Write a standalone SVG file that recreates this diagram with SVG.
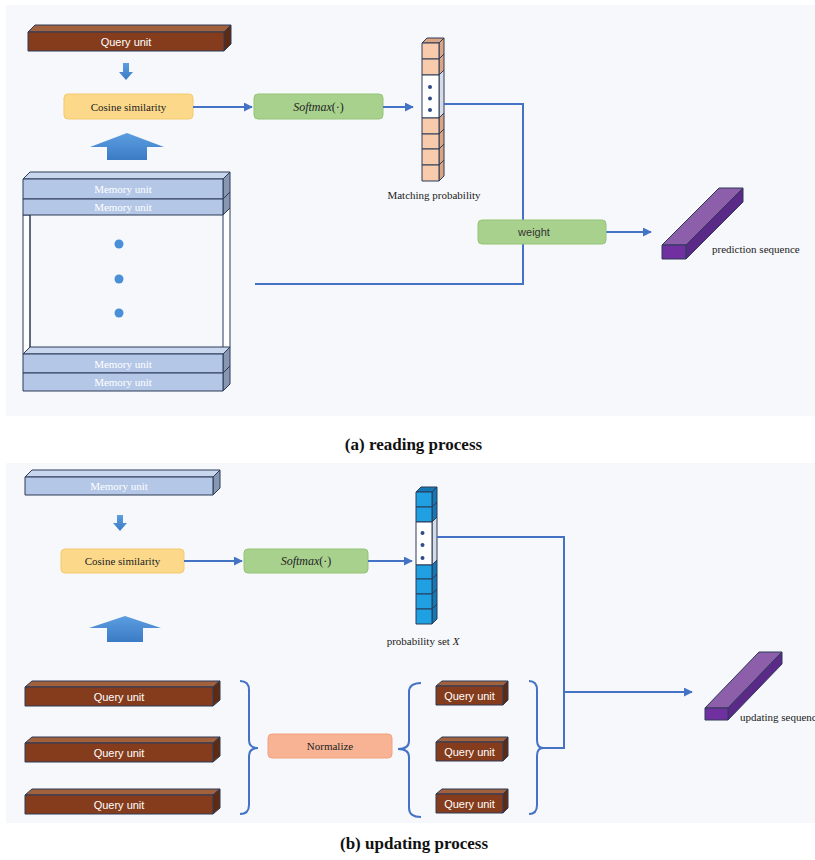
<svg xmlns="http://www.w3.org/2000/svg" width="815" height="860" viewBox="0 0 815 860">
  <defs>
    <style>
      .panel { fill: #f6f8fb; }
      .edge { stroke: #2c3a58; stroke-width: 1; stroke-linejoin: round; }
      .q-front { fill: #843c1c; }
      .q-top { fill: #a2613d; }
      .q-side { fill: #5e2b12; }
      .m-front { fill: #b4c7e7; }
      .m-top { fill: #c8d6ee; }
      .m-side { fill: #8797b2; }
      .p-front { fill: #7030a0; }
      .p-top { fill: #8d5eaa; }
      .p-side { fill: #5b2a88; }
      .c-peach { fill: #f8cbad; }
      .c-peach-side { fill: #d9a582; }
      .c-blue { fill: #1fa0e2; }
      .c-blue-side { fill: #1578b4; }
      .c-white { fill: #ffffff; }
      .c-white-side { fill: #d6dce6; }
      .dot { fill: #2f4a8a; }
      .bigdot { fill: #4a90d9; }
      .wire { fill: none; stroke: #4472c4; stroke-width: 2; }
      .box-yellow { fill: #fcd98a; stroke: #f3c96c; stroke-width: 1; }
      .box-green { fill: #a9d18e; stroke: #93c475; stroke-width: 1; }
      .box-salmon { fill: #f7b394; stroke: #f1a27f; stroke-width: 1; }
      .serif { font-family: "Liberation Serif", "Times New Roman", serif; }
      .sans { font-family: "Liberation Sans", Arial, sans-serif; }
      .lbl { font-size: 11px; fill: #222; }
      .unit { font-size: 11px; fill: #ffffff; }
      .title { font-size: 17px; font-weight: bold; fill: #111; }
    </style>
    <linearGradient id="blockArrow" x1="0" y1="0" x2="0" y2="1">
      <stop offset="0" stop-color="#5c9ee0"/>
      <stop offset="1" stop-color="#3b7bc6"/>
    </linearGradient>
    <marker id="arrow" viewBox="0 0 10 10" refX="9" refY="5" markerWidth="4.5" markerHeight="4.5" orient="auto">
      <path d="M0,0 L10,5 L0,10 Z" fill="#4472c4"/>
    </marker>
  </defs>

  <rect width="815" height="860" fill="#ffffff"/>
  <rect class="panel" x="6" y="5" width="809" height="411"/>
  <rect class="panel" x="6" y="463" width="809" height="360"/>

  <!-- ============ (a) reading process ============ -->
  <g id="query-unit-a">
    <polygon class="q-top edge" points="28,32 35,25 231,25 224,32"/>
    <polygon class="q-side edge" points="224,32 231,25 231,44 224,51"/>
    <rect class="q-front edge" x="28" y="32" width="196" height="19"/>
    <text class="sans unit" x="126" y="46" text-anchor="middle">Query unit</text>
  </g>

  <g id="down-arrow-a">
    <path d="M123,63 H129 V72 H133 L126,80 L119,72 H123 Z" fill="url(#blockArrow)"/>
  </g>

  <g id="cosine-a">
    <rect class="box-yellow" x="64" y="94" width="129" height="25" rx="4"/>
    <text class="serif lbl" x="128.5" y="111" text-anchor="middle">Cosine similarity</text>
  </g>

  <g id="up-arrow-a">
    <path d="M127,133 L164,147 H147 V160 H107 V147 H90 Z" fill="url(#blockArrow)"/>
  </g>

  <g id="memory-block-a">
    <!-- hollow middle of the stack -->
    <rect x="23" y="215" width="7" height="139" fill="#ffffff" class="edge"/>
    <polygon points="223,215 230,208 230,347 223,354" fill="#ffffff" class="edge"/>
    <line x1="30" y1="215" x2="30" y2="348" class="edge"/>
    <!-- row 1 -->
    <polygon class="m-top edge" points="23,179 30,172 230,172 223,179"/>
    <polygon class="m-side edge" points="223,179 230,172 230,192 223,199"/>
    <rect class="m-front edge" x="23" y="179" width="200" height="20"/>
    <text class="serif unit" x="123" y="193">
      <tspan text-anchor="middle">Memory unit</tspan></text>
    <!-- row 2 -->
    <polygon class="m-side edge" points="223,199 230,192 230,208 223,215"/>
    <rect class="m-front edge" x="23" y="199" width="200" height="16"/>
    <text class="serif unit" x="123" y="211" text-anchor="middle">Memory unit</text>
    <!-- row 3 -->
    <polygon class="m-top edge" points="23,354 30,347 230,347 223,354"/>
    <polygon class="m-side edge" points="223,354 230,347 230,366 223,373"/>
    <rect class="m-front edge" x="23" y="354" width="200" height="19"/>
    <text class="serif unit" x="123" y="368" text-anchor="middle">Memory unit</text>
    <!-- row 4 -->
    <polygon class="m-side edge" points="223,373 230,366 230,384 223,391"/>
    <rect class="m-front edge" x="23" y="373" width="200" height="18"/>
    <text class="serif unit" x="123" y="386" text-anchor="middle">Memory unit</text>
    <!-- ellipsis -->
    <circle class="bigdot" cx="119" cy="244" r="4.5"/>
    <circle class="bigdot" cx="119" cy="279" r="4.5"/>
    <circle class="bigdot" cx="119" cy="313" r="4.5"/>
  </g>

  <g id="softmax-a">
    <rect class="box-green" x="254" y="94" width="129" height="25" rx="4"/>
    <text class="serif" x="318.5" y="111" font-size="12" fill="#222" text-anchor="middle"><tspan font-style="italic">Softmax</tspan>(·)</text>
  </g>

  <g id="matching-probability">
    <polygon class="c-peach-side edge" points="422,43 427,38 444,38 439,43"/>
    <!-- cells -->
    <polygon class="c-peach-side edge" points="439,43 444,38 444,54 439,59"/>
    <rect class="c-peach edge" x="422" y="43" width="17" height="16"/>
    <polygon class="c-peach-side edge" points="439,59 444,54 444,70 439,75"/>
    <rect class="c-peach edge" x="422" y="59" width="17" height="16"/>
    <polygon class="c-white-side edge" points="439,75 444,70 444,113 439,118"/>
    <rect class="c-white edge" x="422" y="75" width="17" height="43"/>
    <polygon class="c-peach-side edge" points="439,118 444,113 444,129 439,134"/>
    <rect class="c-peach edge" x="422" y="118" width="17" height="16"/>
    <polygon class="c-peach-side edge" points="439,134 444,129 444,144 439,149"/>
    <rect class="c-peach edge" x="422" y="134" width="17" height="15"/>
    <polygon class="c-peach-side edge" points="439,149 444,144 444,160 439,165"/>
    <rect class="c-peach edge" x="422" y="149" width="17" height="16"/>
    <polygon class="c-peach-side edge" points="439,165 444,160 444,176 439,181"/>
    <rect class="c-peach edge" x="422" y="165" width="17" height="16"/>
    <circle class="dot" cx="430" cy="87" r="2"/>
    <circle class="dot" cx="430" cy="98.5" r="2"/>
    <circle class="dot" cx="430" cy="110" r="2"/>
    <text class="serif lbl" x="434" y="199" text-anchor="middle">Matching probability</text>
  </g>

  <g id="connectors-a">
    <path class="wire" d="M193,107 H252" marker-end="url(#arrow)"/>
    <path class="wire" d="M383,107 H413" marker-end="url(#arrow)"/>
    <path class="wire" d="M444,104 H523 V284 H255"/>
    <path class="wire" d="M606,232 H651" marker-end="url(#arrow)"/>
  </g>

  <g id="weight">
    <rect class="box-green" x="478" y="220" width="128" height="24" rx="4"/>
    <text class="sans" x="534" y="236" font-size="11" fill="#333" text-anchor="middle">weight</text>
  </g>

  <g id="prediction-sequence">
    <polygon class="p-top edge" points="662,245 719,188 743,188 686,245"/>
    <polygon class="p-side edge" points="686,245 743,188 743,202 686,259"/>
    <rect class="p-front edge" x="662" y="245" width="24" height="14"/>
    <text class="serif lbl" x="712" y="253">prediction sequence</text>
  </g>

  <text class="serif title" x="413.5" y="450" text-anchor="middle">(a) reading process</text>

  <!-- ============ (b) updating process ============ -->
  <g id="memory-unit-b">
    <polygon class="m-top edge" points="25,477 32,470 220,470 213,477"/>
    <polygon class="m-side edge" points="213,477 220,470 220,488 213,495"/>
    <rect class="m-front edge" x="25" y="477" width="188" height="18"/>
    <text class="serif unit" x="119" y="490" text-anchor="middle">Memory unit</text>
  </g>

  <g id="down-arrow-b">
    <path d="M117,515 H123 V523 H127 L120,531 L113,523 H117 Z" fill="url(#blockArrow)"/>
  </g>

  <g id="cosine-b">
    <rect class="box-yellow" x="61" y="549" width="123" height="24" rx="4"/>
    <text class="serif lbl" x="122.5" y="565" text-anchor="middle">Cosine similarity</text>
  </g>

  <g id="up-arrow-b">
    <path d="M125,616 L161,628 H143 V642 H107 V628 H89 Z" fill="url(#blockArrow)"/>
  </g>

  <g id="softmax-b">
    <rect class="box-green" x="244" y="549" width="124" height="24" rx="4"/>
    <text class="serif" x="306" y="565" font-size="12" fill="#222" text-anchor="middle"><tspan font-style="italic">Softmax</tspan>(·)</text>
  </g>

  <g id="probability-set">
    <polygon class="c-blue-side edge" points="416,492 421,487 437,487 432,492"/>
    <polygon class="c-blue-side edge" points="432,492 437,487 437,502 432,507"/>
    <rect class="c-blue edge" x="416" y="492" width="16" height="15"/>
    <polygon class="c-blue-side edge" points="432,507 437,502 437,517 432,522"/>
    <rect class="c-blue edge" x="416" y="507" width="16" height="15"/>
    <polygon class="c-white-side edge" points="432,522 437,517 437,560 432,565"/>
    <rect class="c-white edge" x="416" y="522" width="16" height="43"/>
    <polygon class="c-blue-side edge" points="432,565 437,560 437,574 432,579"/>
    <rect class="c-blue edge" x="416" y="565" width="16" height="14"/>
    <polygon class="c-blue-side edge" points="432,579 437,574 437,589 432,594"/>
    <rect class="c-blue edge" x="416" y="579" width="16" height="15"/>
    <polygon class="c-blue-side edge" points="432,594 437,589 437,604 432,609"/>
    <rect class="c-blue edge" x="416" y="594" width="16" height="15"/>
    <polygon class="c-blue-side edge" points="432,609 437,604 437,619 432,624"/>
    <rect class="c-blue edge" x="416" y="609" width="16" height="15"/>
    <circle class="dot" cx="422.5" cy="533" r="2"/>
    <circle class="dot" cx="422.5" cy="545" r="2"/>
    <circle class="dot" cx="422.5" cy="558" r="2"/>
    <text class="serif lbl" x="423" y="645" text-anchor="middle">probability set <tspan font-style="italic">X</tspan></text>
  </g>

  <g id="query-units-b">
    <polygon class="q-top edge" points="25,687 32,681 220,681 213,687"/>
    <polygon class="q-side edge" points="213,687 220,681 220,700 213,706"/>
    <rect class="q-front edge" x="25" y="687" width="188" height="19"/>
    <text class="sans unit" x="119" y="701" text-anchor="middle">Query unit</text>

    <polygon class="q-top edge" points="25,743 32,737 220,737 213,743"/>
    <polygon class="q-side edge" points="213,743 220,737 220,756 213,762"/>
    <rect class="q-front edge" x="25" y="743" width="188" height="19"/>
    <text class="sans unit" x="119" y="757" text-anchor="middle">Query unit</text>

    <polygon class="q-top edge" points="25,795 32,789 220,789 213,795"/>
    <polygon class="q-side edge" points="213,795 220,789 220,808 213,814"/>
    <rect class="q-front edge" x="25" y="795" width="188" height="19"/>
    <text class="sans unit" x="119" y="809" text-anchor="middle">Query unit</text>
  </g>

  <g id="normalize">
    <rect class="box-salmon" x="268" y="734" width="124" height="24" rx="4"/>
    <text class="serif lbl" x="330" y="750" text-anchor="middle">Normalize</text>
  </g>

  <g id="normalized-units">
    <polygon class="q-top edge" points="436,686 442,681 508,681 503,686"/>
    <polygon class="q-side edge" points="503,686 508,681 508,700 503,705"/>
    <rect class="q-front edge" x="436" y="686" width="67" height="19"/>
    <text class="sans unit" x="469.5" y="700" text-anchor="middle">Query unit</text>

    <polygon class="q-top edge" points="436,742 442,737 508,737 503,742"/>
    <polygon class="q-side edge" points="503,742 508,737 508,756 503,761"/>
    <rect class="q-front edge" x="436" y="742" width="67" height="19"/>
    <text class="sans unit" x="469.5" y="756" text-anchor="middle">Query unit</text>

    <polygon class="q-top edge" points="436,794 442,789 508,789 503,794"/>
    <polygon class="q-side edge" points="503,794 508,789 508,808 503,813"/>
    <rect class="q-front edge" x="436" y="794" width="67" height="19"/>
    <text class="sans unit" x="469.5" y="808" text-anchor="middle">Query unit</text>
  </g>

  <g id="updating-sequence">
    <polygon class="p-top edge" points="705,708 759,652 782,652 728,708"/>
    <polygon class="p-side edge" points="728,708 782,652 782,664 728,720"/>
    <rect class="p-front edge" x="705" y="708" width="23" height="12"/>
    <text class="serif lbl" x="740" y="721">updating sequence</text>
  </g>

  <g id="connectors-b">
    <path class="wire" d="M184,561 H242" marker-end="url(#arrow)"/>
    <path class="wire" d="M368,561 H412" marker-end="url(#arrow)"/>
    <!-- braces -->
    <path class="wire" d="M240,681 Q249,681 249,690 V740 Q249,748 258,748 Q249,748 249,756 V805 Q249,814 240,814"/>
    <path class="wire" d="M421,683 Q409,683 409,692 V741 Q409,749 398,749 Q409,749 409,757 V808 Q409,817 421,817"/>
    <path class="wire" d="M529,681 Q537,681 537,690 V740 Q537,748 543,748 Q537,748 537,756 V805 Q537,814 529,814"/>
    <path class="wire" d="M437,537 H564 V748 H543"/>
    <path class="wire" d="M564,692 H692" marker-end="url(#arrow)"/>
  </g>

  <text class="serif title" x="414" y="849" text-anchor="middle">(b) updating process</text>
</svg>
